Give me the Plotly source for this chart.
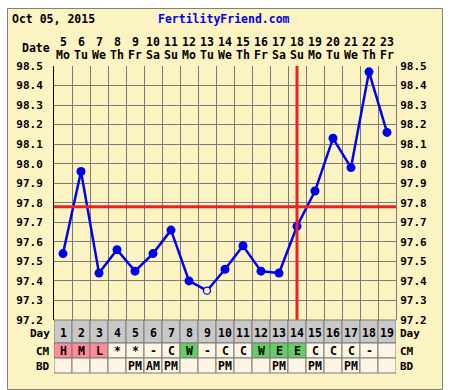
import plotly.graph_objects as go

# ---- data ----
cycle_days = list(range(1, 20))
dates = [5, 6, 7, 8, 9, 10, 11, 12, 13, 14, 15, 16, 17, 18, 19, 20, 21, 22, 23]
weekdays = ["Mo", "Tu", "We", "Th", "Fr", "Sa", "Su", "Mo", "Tu", "We", "Th", "Fr",
            "Sa", "Su", "Mo", "Tu", "We", "Th", "Fr"]
temps = [97.54, 97.96, 97.44, 97.56, 97.45, 97.54, 97.66, 97.40, 97.35, 97.46,
         97.58, 97.45, 97.44, 97.68, 97.86, 98.13, 97.98, 98.47, 98.16]
open_days = [9]
cm = ["H", "M", "L", "*", "*", "-", "C", "W", "-", "C", "C", "W", "E", "E",
      "C", "C", "C", "-", ""]
bd = ["", "", "", "", "PM", "AM", "PM", "", "", "PM", "", "", "PM", "", "PM",
      "", "PM", "", ""]
coverline = 97.78
ovulation_day = 14
chart_date = "Oct 05, 2015"
site = "FertilityFriend.com"
y_min, y_max = 97.2, 98.5
y_ticks = [round(97.2 + 0.1 * i, 1) for i in range(14)]

# ---- styles ----
W, H = 451, 390
L, R, T, B = 54, 396, 66, 320
FONT = "DejaVu Sans Mono"
FS = 11.5
CREAM = "#FCF3C2"
CELL = "#FDF5E3"
GRID = "#7A7A7A"
BLUE = "#0000F0"
RED = "#F02020"
PINK = "#FF8A9A"
GREEN = "#66CC66"
GRAYROW = "#C8C8C8"
cm_color = {"H": PINK, "M": PINK, "L": PINK, "W": GREEN, "E": GREEN}


def px(p):
    return (p - L) / (R - L)


def py(p):
    return (B - p) / (B - T)


def fnt(size=FS, color="black"):
    return dict(family=FONT, size=size, color=color, weight="bold")


fig = go.Figure()

# temperature line
fig.add_trace(go.Scatter(
    x=cycle_days, y=temps, mode="lines+markers",
    line=dict(color=BLUE, width=2.5),
    marker=dict(
        size=[7 if d in open_days else 9 for d in cycle_days],
        color=[CREAM if d in open_days else BLUE for d in cycle_days],
        opacity=1,
        line=dict(color=BLUE, width=[1.3 if d in open_days else 0 for d in cycle_days]),
    ),
    hoverinfo="x+y", showlegend=False,
))
# invisible trace for right axis
fig.add_trace(go.Scatter(x=cycle_days, y=temps, yaxis="y2", mode="markers",
                         marker=dict(opacity=0), hoverinfo="skip", showlegend=False))

shapes = []
annotations = []


def ann(x, y, text, xref="paper", xanchor="center", size=FS, color="black"):
    annotations.append(dict(x=x, y=y, xref=xref, yref="paper", text=text,
                            showarrow=False, xanchor=xanchor, yanchor="middle",
                            font=fnt(size, color)))


# cream frame
shapes.append(dict(type="rect", xref="paper", yref="paper",
                   x0=px(7.5), x1=px(442.5), y0=py(389.5), y1=py(8.5),
                   fillcolor=CREAM, line=dict(color="#808080", width=1), layer="below"))

# coverline and ovulation line
shapes.append(dict(type="line", xref="x", yref="y", x0=0.5, x1=19.5,
                   y0=coverline, y1=coverline, line=dict(color=RED, width=3)))
shapes.append(dict(type="line", xref="x", yref="y", x0=ovulation_day, x1=ovulation_day,
                   y0=y_min, y1=y_max, line=dict(color=RED, width=3)))

# table rows: (top px, bottom px)
rows = {"Day": (320, 343), "CM": (343, 358), "BD": (358, 373)}
for i, d in enumerate(cycle_days):
    t0, t1 = rows["Day"]
    shapes.append(dict(type="rect", xref="x", yref="paper", x0=d - 0.5, x1=d + 0.5,
                       y0=py(t1), y1=py(t0), fillcolor=GRAYROW,
                       line=dict(color=GRID, width=1), layer="above"))
    ann(d, py(333), str(d), xref="x")
    t0, t1 = rows["CM"]
    shapes.append(dict(type="rect", xref="x", yref="paper", x0=d - 0.5, x1=d + 0.5,
                       y0=py(t1), y1=py(t0), fillcolor=cm_color.get(cm[i], CELL),
                       line=dict(color=GRID, width=1), layer="above"))
    if cm[i]:
        ann(d, py(351), cm[i], xref="x")
    t0, t1 = rows["BD"]
    shapes.append(dict(type="rect", xref="x", yref="paper", x0=d - 0.5, x1=d + 0.5,
                       y0=py(t1), y1=py(t0), fillcolor=CELL,
                       line=dict(color=GRID, width=1), layer="above"))
    if bd[i]:
        ann(d, py(366), bd[i], xref="x")
    ann(d, py(42.5), str(dates[i]), xref="x")
    ann(d, py(54.5), weekdays[i], xref="x")

# row labels both sides
label_y = {"Day": 333.5, "CM": 351, "BD": 366}
for name, yy in label_y.items():
    ann(px(52), py(yy), name, xanchor="right", size=11)
    ann(px(398), py(yy), name, xanchor="left", size=11)
ann(px(52), py(48.5), "Date", xanchor="right")

# header
ann(px(10), py(19), chart_date, xanchor="left")
ann(px(224), py(19), site, color="#0000EE")

fig.update_layout(
    width=W, height=H, autosize=False,
    margin=dict(l=L, r=W - R, t=T, b=H - B, pad=0),
    paper_bgcolor="white", plot_bgcolor=CREAM,
    xaxis=dict(range=[0.5, 19.5], tickvals=[d + 0.5 for d in range(0, 20)],
               showticklabels=False, showgrid=True, gridcolor=GRID, gridwidth=1,
               zeroline=False, showline=False, fixedrange=True),
    yaxis=dict(range=[y_min, y_max], tickvals=y_ticks, tickformat=".1f",
               showgrid=True, gridcolor=GRID, gridwidth=1, zeroline=False,
               showline=True, linecolor="black", linewidth=1,
               ticks="", ticklabelstandoff=8,
               tickfont=fnt(11), fixedrange=True),
    yaxis2=dict(range=[y_min, y_max], tickvals=y_ticks, tickformat=".1f",
                overlaying="y", side="right", showgrid=False, zeroline=False,
                showline=True, linecolor=GRID, linewidth=1,
                ticks="", ticklabelstandoff=1,
                tickfont=fnt(11), fixedrange=True),
    shapes=shapes, annotations=annotations,
)

fig.write_html("out.html", config={"displayModeBar": False},
               post_script="document.body.style.margin='0';")
